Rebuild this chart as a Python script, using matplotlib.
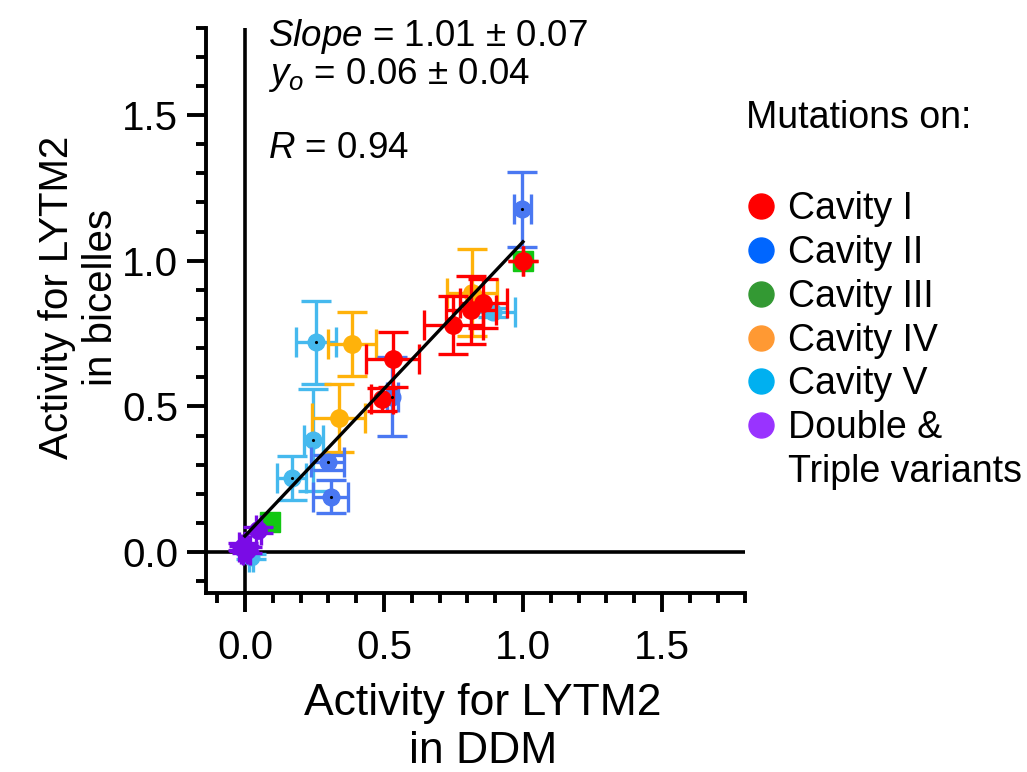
import matplotlib
matplotlib.use("Agg")
import matplotlib.pyplot as plt
from matplotlib.ticker import MultipleLocator
from matplotlib.lines import Line2D

plt.rcParams['font.family'] = ['Liberation Sans', 'DejaVu Sans']
plt.rcParams['mathtext.fontset'] = 'custom'
plt.rcParams['mathtext.rm'] = 'Liberation Sans'
plt.rcParams['mathtext.it'] = 'Liberation Sans:italic'

# ---------------- data ----------------
groups = ["Cavity I", "Cavity II", "Cavity III", "Cavity IV", "Cavity V",
          "Double &\nTriple variants"]

cav1_x = [1.00, 0.857, 0.812, 0.750, 0.531, 0.492]
cav1_y = [1.00, 0.854, 0.830, 0.780, 0.661, 0.524]
cav1_xerr = [0.0, 0.085, 0.090, 0.105, 0.094, 0.040]
cav1_yerr = [0.0, 0.085, 0.117, 0.100, 0.093, 0.040]

cav2_x = [0.998, 0.530, 0.297, 0.309]
cav2_y = [1.176, 0.533, 0.308, 0.190]
cav2_xerr = [0.030, 0.020, 0.060, 0.063]
cav2_yerr = [0.128, 0.135, 0.025, 0.057]

cav3_x = [1.00, 0.090]
cav3_y = [1.00, 0.104]

cav4_x = [0.815, 0.384, 0.337]
cav4_y = [0.890, 0.714, 0.459]
cav4_xerr = [0.090, 0.086, 0.095]
cav4_yerr = [0.150, 0.110, 0.117]

cav5_x = [0.893, 0.255, 0.246, 0.168, 0.022]
cav5_y = [0.823, 0.720, 0.384, 0.253, -0.016]
cav5_xerr = [0.080, 0.073, 0.035, 0.053, 0.008]
cav5_yerr = [0.015, 0.143, 0.175, 0.075, 0.008]

multi_x = [0.048, -0.008, 0.006, -0.004]
multi_y = [0.075, 0.018, 0.008, 0.012]
multi_xerr = [0.010, 0.012, 0.012, 0.010]
multi_yerr = [0.010, 0.012, 0.010, 0.010]

fit_slope = 1.01
fit_intercept = 0.055
fit_x = [0.0, 1.0]

plot_colors = ["#FF0000", "#4A78F2", "#12C712", "#FFB20A", "#45B9EE", "#7A0BE6"]
legend_colors = ["#FF0000", "#0066FF", "#339933", "#FF9933", "#00B0F0", "#9933FF"]

# ---------------- figure ----------------
fig = plt.figure(figsize=(10.27, 7.72), dpi=100)
ax = fig.add_axes([0.2006, 0.2321, 0.5252, 0.7320])

ax.set_xlim(-0.14, 1.8)
ax.set_ylim(-0.14, 1.8)

for s in ["top", "right"]:
    ax.spines[s].set_visible(False)
for s in ["left", "bottom"]:
    ax.spines[s].set_linewidth(2.8)

ax.axhline(0, color="black", lw=2.6, zorder=1)
ax.axvline(0, color="black", lw=2.6, zorder=1)

eb_kw = dict(elinewidth=2.4, capsize=11, capthick=2.4, linestyle="none")

ax.errorbar(cav3_x, cav3_y, fmt="s", ms=14, linestyle="none",
            color=plot_colors[2], zorder=3)
ax.errorbar(cav5_x, cav5_y, xerr=cav5_xerr, yerr=cav5_yerr, fmt="o", ms=12,
            color=plot_colors[4], zorder=3, **eb_kw)
ax.errorbar(cav4_x, cav4_y, xerr=cav4_xerr, yerr=cav4_yerr, fmt="o", ms=12.5,
            color=plot_colors[3], zorder=3, **eb_kw)
ax.errorbar(cav2_x, cav2_y, xerr=cav2_xerr, yerr=cav2_yerr, fmt="o", ms=12,
            color=plot_colors[1], zorder=4, **eb_kw)
ax.errorbar(cav1_x, cav1_y, xerr=cav1_xerr, yerr=cav1_yerr, fmt="o", ms=12.5,
            color=plot_colors[0], zorder=5, **eb_kw)
ax.errorbar(multi_x, multi_y, xerr=multi_xerr, yerr=multi_yerr, fmt="o", ms=12.5,
            color=plot_colors[5], zorder=5, **eb_kw)

# small centre dots seen on some markers
ax.plot(cav2_x, cav2_y, ".", color="black", ms=2.5, zorder=6)
ax.plot(cav5_x[1:4], cav5_y[1:4], ".", color="black", ms=2.5, zorder=6)

fit_y = [fit_slope * v + fit_intercept for v in fit_x]
ax.plot(fit_x, fit_y, color="black", lw=2.4, zorder=7)

# ticks
ax.set_xticks([0.0, 0.5, 1.0, 1.5])
ax.set_yticks([0.0, 0.5, 1.0, 1.5])
ax.set_xticklabels(["0.0", "0.5", "1.0", "1.5"])
ax.set_yticklabels(["0.0", "0.5", "1.0", "1.5"])
ax.xaxis.set_minor_locator(MultipleLocator(0.1))
ax.yaxis.set_minor_locator(MultipleLocator(0.1))
ax.tick_params(which="major", direction="out", length=14, width=2.8, labelsize=29)
ax.tick_params(which="minor", direction="out", length=7, width=2.8)
ax.tick_params(axis="x", which="major", pad=12)
ax.tick_params(axis="y", which="major", pad=6)

ax.set_xlabel("Activity for LYTM2\nin DDM", fontsize=32, linespacing=1.2)
ax.set_ylabel("Activity for LYTM2\nin bicelles", fontsize=29, linespacing=1.2)
ax.xaxis.set_label_coords(0.513, -0.160)
ax.yaxis.set_label_coords(-0.160, 0.523)

# fit statistics
ax.text(0.083, 1.737, r"$\mathit{Slope}$ = 1.01 ± 0.07", fontsize=26.5,
        va="baseline", ha="left", clip_on=False)
ax.text(0.083, 1.607, r"$\mathit{y_o}$ = 0.06 ± 0.04", fontsize=26.5,
        va="baseline", ha="left", clip_on=False)
ax.text(0.083, 1.353, r"$\mathit{R}$ = 0.94", fontsize=26.5,
        va="baseline", ha="left", clip_on=False)

# legend
fig.text(746 / 1027, 1 - 118 / 772, "Mutations on:", fontsize=27,
         ha="left", va="center")
handles = [Line2D([], [], marker="o", linestyle="none", ms=18,
                  markerfacecolor=c, markeredgecolor=c) for c in legend_colors]
handles.append(Line2D([], [], linestyle="none", marker=None))
labels = groups[:-1] + ["Double &", "Triple variants"]
leg = fig.legend(handles, labels, loc="upper left",
                 bbox_to_anchor=(748 / 1027, 1 - 191 / 772),
                 frameon=False, fontsize=27, borderpad=0, borderaxespad=0,
                 handlelength=0.7, handletextpad=0.37, labelspacing=0.21)

fig.savefig("out.png", dpi=100)
